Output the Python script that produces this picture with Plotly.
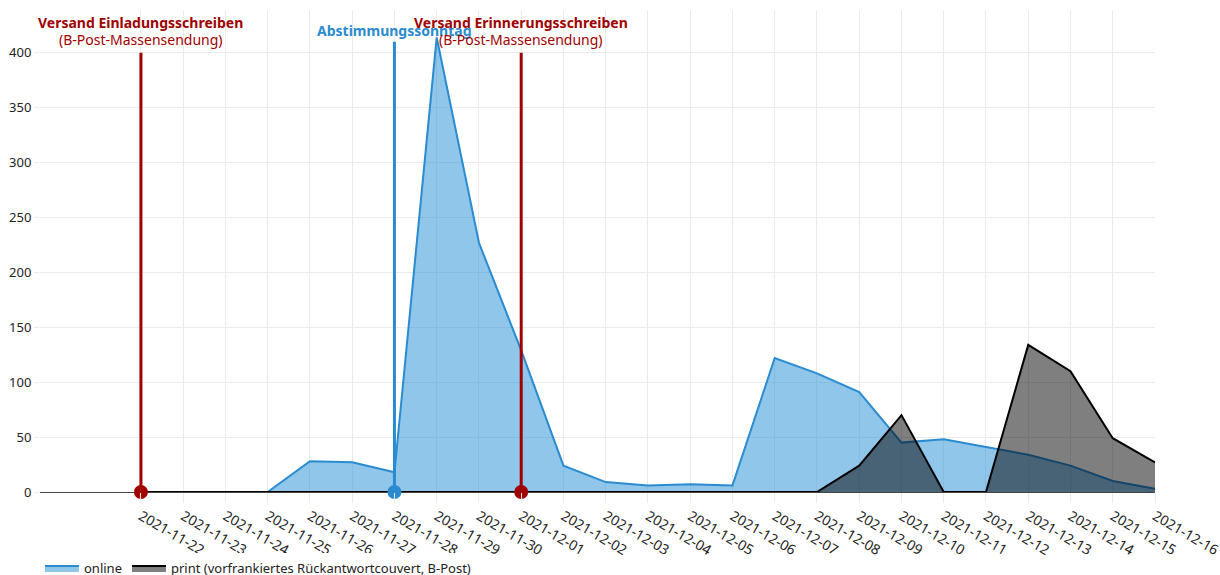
import plotly.graph_objects as go

# ── Data ─────────────────────────────────────────────────────────────────────

dates = [
    "2021-11-22", "2021-11-23", "2021-11-24", "2021-11-25", "2021-11-26",
    "2021-11-27", "2021-11-28", "2021-11-29", "2021-11-30", "2021-12-01",
    "2021-12-02", "2021-12-03", "2021-12-04", "2021-12-05", "2021-12-06",
    "2021-12-07", "2021-12-08", "2021-12-09", "2021-12-10", "2021-12-11",
    "2021-12-12", "2021-12-13", "2021-12-14", "2021-12-15", "2021-12-16",
]
online = [0, 0, 0, 0, 28, 27, 18, 414, 227, 129, 24, 9, 6, 7, 6,
          122, 108, 91, 45, 48, 41, 34, 24, 10, 3]
printed = [0, 0, 0, 0, 0, 0, 0, 0, 0, 0, 0, 0, 0, 0, 0,
           0, 0, 24, 70, 0, 0, 134, 110, 49, 27]

event_dates = ["2021-11-22", "2021-11-28", "2021-12-01"]
event_heights = [400, 410, 400]
event_titles = ["Versand Einladungsschreiben", "Abstimmungssonntag", "Versand Erinnerungsschreiben"]
event_subtitles = ["(B-Post-Massensendung)", "", "(B-Post-Massensendung)"]
event_kinds = ["post", "vote", "post"]

# ── Style ────────────────────────────────────────────────────────────────────

RED = "#a00000"
BLUE = "#2a8bd0"
GRID = "#ebebeb"
FONT = "Noto Sans, sans-serif"
KIND_COLOR = {"post": RED, "vote": BLUE}

fig = go.Figure()

fig.add_trace(go.Scatter(
    x=dates, y=online, name="online", mode="lines",
    line=dict(color=BLUE, width=2),
    fill="tozeroy", fillcolor="rgba(31,141,214,0.5)",
))
fig.add_trace(go.Scatter(
    x=dates, y=printed, name="print (vorfrankiertes Rückantwortcouvert, B-Post)",
    mode="lines",
    line=dict(color="black", width=2),
    fill="tozeroy", fillcolor="rgba(0,0,0,0.5)",
))

# event lines + base markers
for d, h, kind in zip(event_dates, event_heights, event_kinds):
    c = KIND_COLOR[kind]
    fig.add_trace(go.Scatter(
        x=[d, d], y=[0, h], mode="lines",
        line=dict(color=c, width=3), showlegend=False, hoverinfo="skip",
    ))
    fig.add_trace(go.Scatter(
        x=[d], y=[0], mode="markers",
        marker=dict(color=c, size=14), showlegend=False,
        cliponaxis=False, hoverinfo="skip",
    ))

# event labels
for d, title, sub, kind in zip(event_dates, event_titles, event_subtitles, event_kinds):
    c = KIND_COLOR[kind]
    if sub:
        fig.add_annotation(x=d, y=428, text=f"<b>{title}</b>", showarrow=False,
                           font=dict(color=c, size=14, family=FONT), yanchor="middle")
        fig.add_annotation(x=d, y=412, text=sub, showarrow=False,
                           font=dict(color=c, size=14, family=FONT), yanchor="middle")
    else:
        fig.add_annotation(x=d, y=420, text=f"<b>{title}</b>", showarrow=False,
                           font=dict(color=c, size=14, family=FONT), yanchor="middle")

fig.update_layout(
    width=1220, height=575,
    paper_bgcolor="white", plot_bgcolor="white",
    font=dict(family=FONT, color="#222", size=13),
    margin=dict(l=40, r=65, t=10, b=83),
    showlegend=True,
    legend=dict(orientation="h", x=0, xanchor="left",
                yref="container", y=0.012, yanchor="middle",
                itemwidth=34, font=dict(size=13)),
    xaxis=dict(
        type="date", automargin=False,
        range=["2021-11-19 14:40", "2021-12-16"],
        tickvals=dates, ticktext=dates, tickangle=30,
        ticks="outside", ticklen=10, tickcolor=GRID,
        ticklabeloverflow="allow",
        showgrid=True, gridcolor=GRID,
        zeroline=False, showline=False,
        tickfont=dict(size=14, color="#222"),
    ),
    yaxis=dict(
        automargin=False,
        range=[0, 439],
        tickvals=list(range(0, 401, 50)),
        ticks="outside", ticklen=5, tickcolor=GRID,
        showgrid=True, gridcolor=GRID,
        zeroline=True, zerolinecolor="#444", zerolinewidth=1,
        showline=False,
        tickfont=dict(size=13, color="#222"),
    ),
)

# page margin off so the figure sits at the window's top-left corner
fig.write_html("out.html", config={"displayModeBar": False},
               post_script="document.body.style.margin='0';")
